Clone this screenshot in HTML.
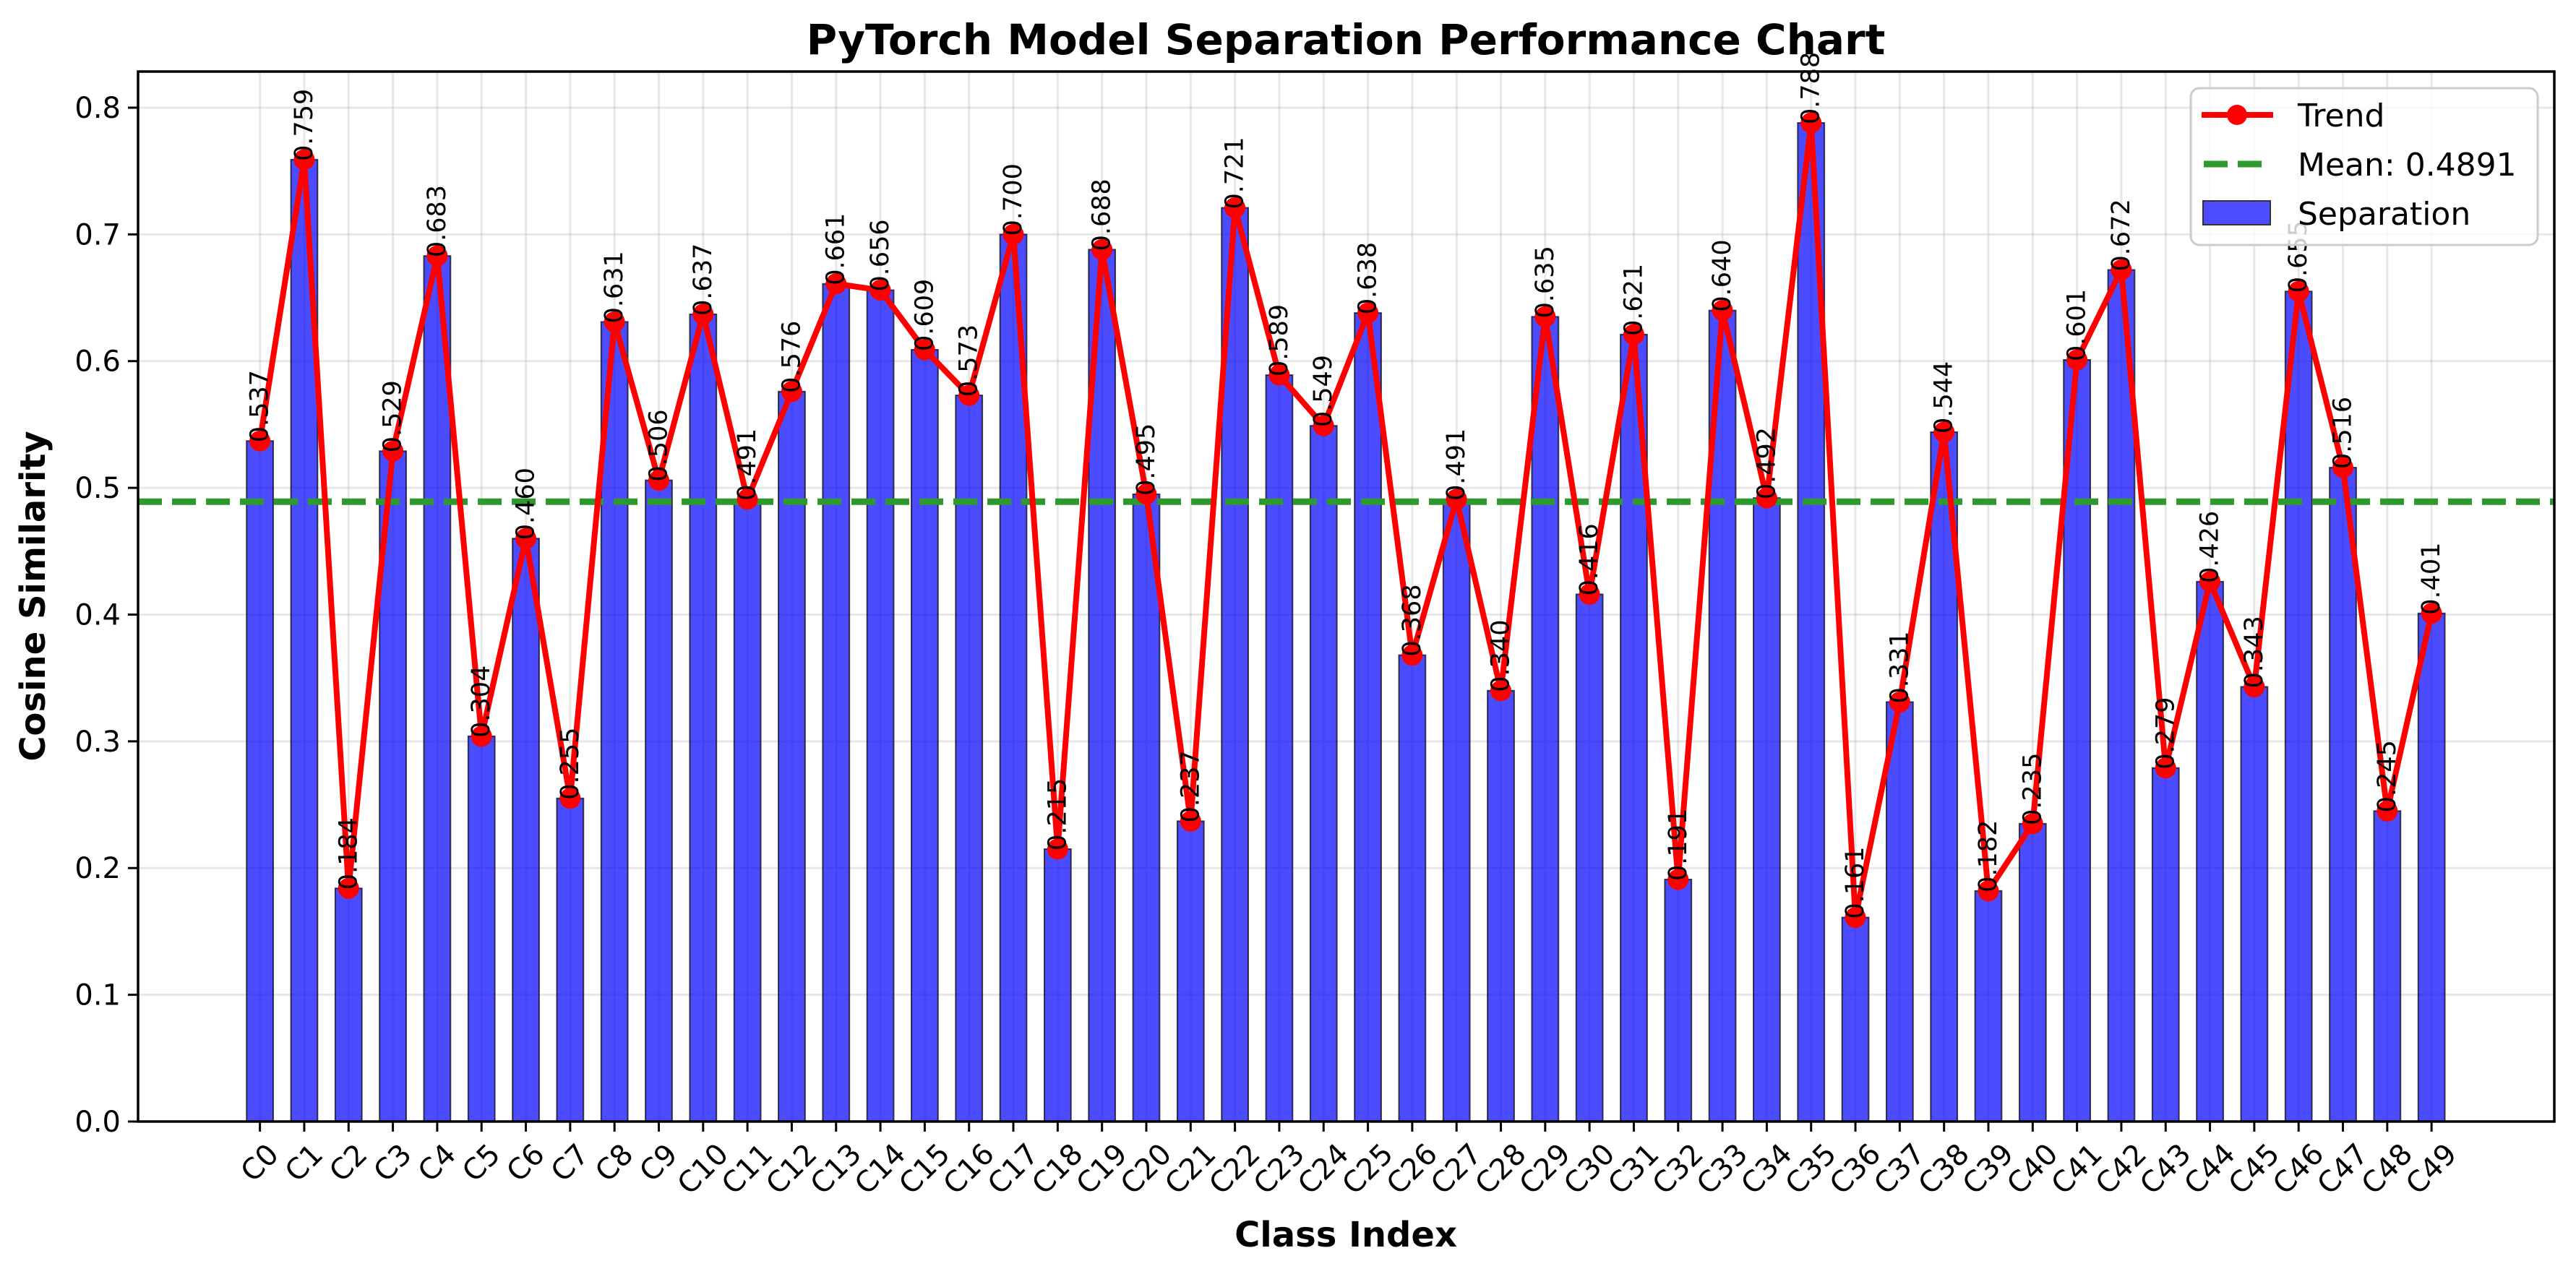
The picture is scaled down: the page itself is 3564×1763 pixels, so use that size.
<!DOCTYPE html>
<html><head><meta charset="utf-8"><style>
html,body{margin:0;padding:0;background:#fff;}
svg{display:block;font-family:"DejaVu Sans","Liberation Sans",sans-serif;}
</style></head><body>
<svg id="chart" width="3564" height="1763" viewBox="0 0 3564 1763" xmlns="http://www.w3.org/2000/svg">
<rect width="3564" height="1763" fill="#fff"/>
<text x="1862" y="75" text-anchor="middle" font-size="58" font-weight="bold">PyTorch Model Separation Performance Chart</text>
<text x="1862" y="1725" text-anchor="middle" font-size="48" font-weight="bold">Class Index</text>
<text transform="translate(62,825) rotate(-90)" text-anchor="middle" font-size="48" font-weight="bold">Cosine Similarity</text>
<g id="grid"></g><g id="bars"></g><g id="mean"></g><g id="trend"></g><g id="vals"></g><g id="axes"></g>
<g id="legend">
<rect x="3031" y="122" width="480" height="217" rx="12" fill="#fff" fill-opacity="0.8" stroke="#cccccc" stroke-width="3"/>
<line x1="3046" y1="159" x2="3145" y2="159" stroke="#ff0000" stroke-width="8"/>
<circle cx="3095" cy="159" r="14" fill="#ff0000"/>
<text x="3179" y="175" font-size="44">Trend</text>
<line x1="3049" y1="227" x2="3142" y2="227" stroke="#2e9a2e" stroke-width="9" stroke-dasharray="33,14"/>
<text x="3179" y="243" font-size="44">Mean: 0.4891</text>
<rect x="3048" y="278" width="93" height="33" fill="#4d4dff" stroke="#333" stroke-width="2"/>
<text x="3179" y="311" font-size="44">Separation</text>
</g>
</svg>
<script>
const categories = ["C0","C1","C2","C3","C4","C5","C6","C7","C8","C9","C10","C11","C12","C13","C14","C15","C16","C17","C18","C19","C20","C21","C22","C23","C24","C25","C26","C27","C28","C29","C30","C31","C32","C33","C34","C35","C36","C37","C38","C39","C40","C41","C42","C43","C44","C45","C46","C47","C48","C49"];
const separation = [0.537,0.759,0.184,0.529,0.683,0.304,0.460,0.255,0.631,0.506,0.637,0.491,0.576,0.661,0.656,0.609,0.573,0.700,0.215,0.688,0.495,0.237,0.721,0.589,0.549,0.638,0.368,0.491,0.340,0.635,0.416,0.621,0.191,0.640,0.492,0.788,0.161,0.331,0.544,0.182,0.235,0.601,0.672,0.279,0.426,0.343,0.655,0.516,0.245,0.401];
const meanValue = [0.4891];
const yTicks = [0.0,0.1,0.2,0.3,0.4,0.5,0.6,0.7,0.8];
const yTickLabels = ["0.0","0.1","0.2","0.3","0.4","0.5","0.6","0.7","0.8"];

const NS="http://www.w3.org/2000/svg";
const L=191,R=3534,T=99,B=1552;
const n=categories.length;
const xMin=-2.75,xMax=(n-1)+2.77;
const yMin=0,yMax=0.8285;
function xs(i){return L+(i-xMin)/(xMax-xMin)*(R-L);}
function ys(v){return B-(v-yMin)/(yMax-yMin)*(B-T);}
const unit=(R-L)/(xMax-xMin);
function mk(tag,attrs,parent){const e=document.createElementNS(NS,tag);for(const k in attrs)e.setAttribute(k,attrs[k]);parent.appendChild(e);return e;}
const g=id=>document.getElementById(id);

// grid
yTicks.forEach(t=>{const e=mk('line',{x1:L,x2:R,y1:ys(t),y2:ys(t),stroke:'#b0b0b0','stroke-opacity':0.3,'stroke-width':3},g('grid'));

});
categories.forEach((c,i)=>{const e=mk('line',{x1:xs(i),x2:xs(i),y1:T,y2:B,stroke:'#b0b0b0','stroke-opacity':0.3,'stroke-width':3},g('grid'));

});

// bars
separation.forEach((v,i)=>{const w=0.6*unit;
const e=mk('rect',{x:xs(i)-w/2,y:ys(v),width:w,height:ys(0)-ys(v),fill:'#0000ff','fill-opacity':0.7,stroke:'#000','stroke-opacity':0.7,'stroke-width':2},g('bars'));

});

// mean line
{const e=mk('line',{x1:L,x2:R,y1:ys(meanValue[0]),y2:ys(meanValue[0]),stroke:'#2e9a2e','stroke-width':9,'stroke-dasharray':'33,14'},g('mean'));

}

// trend
{const pts=separation.map((v,i)=>xs(i)+','+ys(v)).join(' ');
const e=mk('polyline',{points:pts,fill:'none',stroke:'#ff0000','stroke-width':8,'stroke-linejoin':'round'},g('trend'));


separation.forEach((v,i)=>{const c=mk('circle',{cx:xs(i),cy:ys(v),r:14.5,fill:'#ff0000'},g('trend'));

});}

// value labels
separation.forEach((v,i)=>{const x=xs(i)+11,y=ys(v)+2;
const e=mk('text',{transform:'translate('+x+','+y+') rotate(-90)','font-size':35},g('vals'));
e.textContent=v.toFixed(3);

});

// axes
const ax=g('axes');
{const e=mk('rect',{x:L,y:T,width:R-L,height:B-T,fill:'none',stroke:'#000','stroke-width':3.5},ax);

}
yTicks.forEach((t,k)=>{const y=ys(t);
const tk=mk('line',{x1:L-14,x2:L,y1:y,y2:y,stroke:'#000','stroke-width':3},ax);


const tx=mk('text',{x:L-24,y:y+14,'text-anchor':'end','font-size':40},ax);
tx.textContent=yTickLabels[k];

});
categories.forEach((c,i)=>{const x=xs(i);
const tk=mk('line',{x1:x,x2:x,y1:B,y2:B+14,stroke:'#000','stroke-width':3},ax);


const w=c.length*24,h=30,half=(w+h)/(2*Math.SQRT2);
const cy=B+30+half;
const tx=mk('text',{transform:'translate('+x+','+cy+') rotate(-45)','text-anchor':'middle','dominant-baseline':'central','font-size':40},ax);
tx.textContent=c;

});
</script>
</body></html>
